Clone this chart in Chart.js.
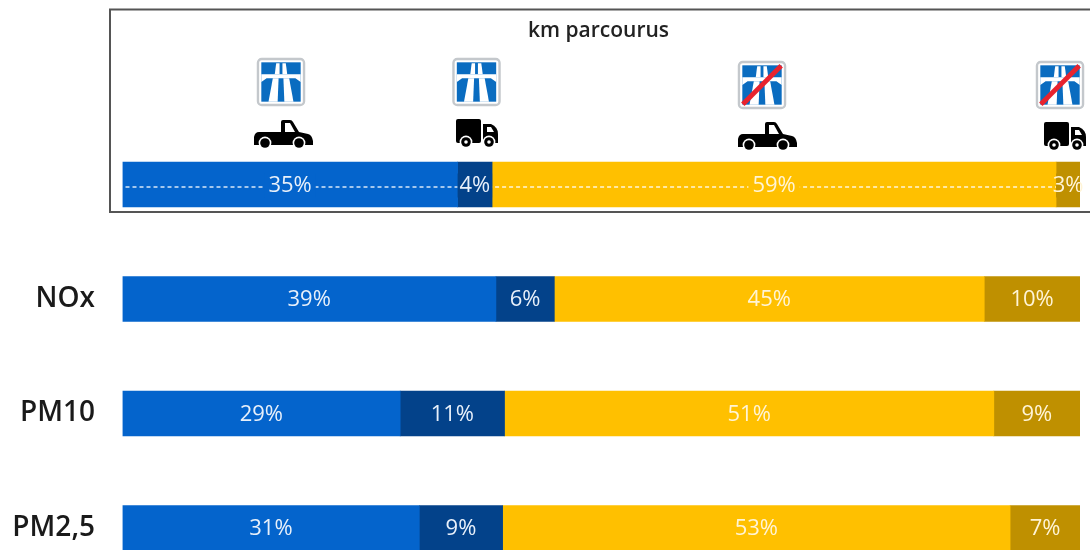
<!DOCTYPE html>
<html>
<head>
<meta charset="utf-8">
<title>km parcourus</title>
<script src="https://cdn.jsdelivr.net/npm/chart.js@4"></script>
<style>
	html, body { margin: 0; padding: 0; background: #fff; overflow: hidden; }
	#wrap { width: 1090px; height: 550px; overflow: hidden; }
	canvas { display: block; filter: blur(0.5px); }
</style>
</head>
<body>
<div id="wrap"><canvas id="myChart" width="1090" height="590"></canvas></div>
<script>
var categories = ["km parcourus", "NOx", "PM10", "PM2,5"];
var tickLabels = ["", "NOx", "PM10", "PM2,5"];
var titleText = "km parcourus";

// share per row, labels are rounded when drawn
var pickupMotorway = [35, 39, 29, 31];
var truckMotorway = [3.6, 6.1, 10.9, 8.7];
var pickupOther = [58.9, 44.9, 51.1, 53];
var truckOther = [2.5, 10, 9, 7.3];

var blue = "#0464cc",
	darkBlue = "#03428a",
	yellow = "#ffc000",
	darkYellow = "#bf9000";

var labelFont = "400 22px 'Open Sans'";

function drawSign(ctx, x, y, s, crossed) {
	ctx.save();
	ctx.translate(x, y);
	ctx.scale(s, s);
	ctx.fillStyle = "#fff";
	ctx.strokeStyle = "#c4c8cc";
	ctx.lineWidth = 0.05;
	ctx.beginPath();
	ctx.roundRect(0.02, 0.02, 0.96, 0.96, 0.08);
	ctx.fill();
	ctx.stroke();
	ctx.fillStyle = "#0a6cc0";
	ctx.fillRect(0.09, 0.09, 0.82, 0.82);
	ctx.fillStyle = "#fff";
	var polys = [
		// bridge, with its arched underside
		[[0.09, 0.34], [0.91, 0.34], [0.91, 0.5], [0.8, 0.42], [0.2, 0.42], [0.09, 0.5]],
		[[0.4, 0.11], [0.47, 0.11], [0.47, 0.34], [0.37, 0.34]],
		[[0.53, 0.11], [0.6, 0.11], [0.63, 0.34], [0.53, 0.34]],
		[[0.33, 0.42], [0.45, 0.42], [0.43, 0.91], [0.24, 0.91]],
		[[0.55, 0.42], [0.67, 0.42], [0.76, 0.91], [0.57, 0.91]]
	];
	polys.forEach(function(p) {
		ctx.beginPath();
		p.forEach(function(q, i) {
			if (i === 0) ctx.moveTo(q[0], q[1]); else ctx.lineTo(q[0], q[1]);
		});
		ctx.closePath();
		ctx.fill();
	});
	if (crossed) {
		ctx.strokeStyle = "#e8232e";
		ctx.lineWidth = 0.1;
		ctx.beginPath();
		ctx.moveTo(0.1, 0.9);
		ctx.lineTo(0.9, 0.1);
		ctx.stroke();
	}
	ctx.restore();
}

function wheel(ctx, x, y) {
	ctx.fillStyle = "#fff";
	ctx.beginPath();
	ctx.arc(x, y, 6.4, 0, Math.PI * 2);
	ctx.fill();
	ctx.fillStyle = "#000";
	ctx.beginPath();
	ctx.arc(x, y, 4.8, 0, Math.PI * 2);
	ctx.fill();
}

function drawPickup(ctx, x, y) {
	ctx.save();
	ctx.translate(x, y);
	ctx.fillStyle = "#000";
	ctx.beginPath();
	ctx.moveTo(0, 17);
	ctx.quadraticCurveTo(1, 12, 5, 12);
	ctx.lineTo(27, 12);
	ctx.lineTo(27, 2);
	ctx.quadraticCurveTo(27, 0, 29, 0);
	ctx.lineTo(36, 0);
	ctx.quadraticCurveTo(38, 0, 39, 2);
	ctx.lineTo(45, 12);
	ctx.lineTo(54, 14);
	ctx.quadraticCurveTo(58, 15, 59, 21);
	ctx.lineTo(59, 25);
	ctx.lineTo(0, 25);
	ctx.closePath();
	ctx.fill();
	ctx.fillStyle = "#fff";
	ctx.beginPath();
	ctx.moveTo(31, 3);
	ctx.lineTo(36, 3);
	ctx.lineTo(41, 12);
	ctx.lineTo(31, 12);
	ctx.closePath();
	ctx.fill();
	wheel(ctx, 11, 23);
	wheel(ctx, 45, 23);
	ctx.restore();
}

function drawTruck(ctx, x, y) {
	ctx.save();
	ctx.translate(x, y);
	ctx.fillStyle = "#000";
	ctx.beginPath();
	ctx.roundRect(0, 0, 25, 24, 2);
	ctx.fill();
	ctx.beginPath();
	ctx.moveTo(27, 5);
	ctx.lineTo(35, 5);
	ctx.quadraticCurveTo(42, 8, 42, 15);
	ctx.lineTo(42, 24);
	ctx.lineTo(27, 24);
	ctx.closePath();
	ctx.fill();
	ctx.fillStyle = "#fff";
	ctx.beginPath();
	ctx.moveTo(31, 8);
	ctx.lineTo(35, 8);
	ctx.lineTo(38, 13);
	ctx.lineTo(31, 13);
	ctx.closePath();
	ctx.fill();
	wheel(ctx, 10, 23);
	wheel(ctx, 33, 23);
	ctx.fillStyle = "#fff";
	ctx.beginPath();
	ctx.arc(10, 23, 1.8, 0, Math.PI * 2);
	ctx.arc(33, 23, 1.8, 0, Math.PI * 2);
	ctx.fill();
	ctx.restore();
}

var framePlugin = {
	id: "frame",
	beforeDraw: function(chart) {
		var ctx = chart.ctx;
		ctx.save();
		ctx.strokeStyle = "#555";
		ctx.lineWidth = 2;
		ctx.strokeRect(110, 9.5, 1000, 202.5);
		ctx.fillStyle = "#222";
		ctx.font = "600 21px 'Open Sans'";
		ctx.textAlign = "center";
		ctx.textBaseline = "middle";
		ctx.fillText(titleText, 598.5, 31);
		drawSign(ctx, 257, 58, 48, false);
		drawSign(ctx, 452.5, 58, 48, false);
		drawSign(ctx, 738, 61, 48, true);
		drawSign(ctx, 1036, 61, 48, true);
		drawPickup(ctx, 254, 120);
		drawTruck(ctx, 456, 119);
		drawPickup(ctx, 738, 122);
		drawTruck(ctx, 1044, 122);
		ctx.restore();
	}
};

var barLabelPlugin = {
	id: "barLabels",
	afterDatasetsDraw: function(chart) {
		var ctx = chart.ctx;
		ctx.save();
		ctx.font = labelFont;
		ctx.textAlign = "center";
		ctx.textBaseline = "middle";

		// dashed line through the first row only
		chart.data.datasets.forEach(function(ds, i) {
			var bar = chart.getDatasetMeta(i).data[0];
			ctx.save();
			ctx.strokeStyle = "rgba(255,255,255,0.85)";
			ctx.lineWidth = 1.5;
			ctx.setLineDash([4, 3]);
			ctx.beginPath();
			ctx.moveTo(bar.base + 3, bar.y + 2.5);
			ctx.lineTo(bar.x, bar.y + 2.5);
			ctx.stroke();
			ctx.restore();
		});

		chart.data.datasets.forEach(function(ds, i) {
			chart.getDatasetMeta(i).data.forEach(function(bar, j) {
				var txt = Math.round(ds.data[j]) + "%";
				var cx = (bar.base + bar.x) / 2;
				if (j === 0) {
					var w = ctx.measureText(txt).width + 8;
					ctx.fillStyle = ds.backgroundColor;
					ctx.fillRect(Math.max(cx - w / 2, bar.base), bar.y - 11, Math.min(w, bar.x - bar.base), 24);
				}
				ctx.fillStyle = i < 2 ? "#e8f0fa" : "#fff4d6";
				ctx.fillText(txt, cx, bar.y + 1);
			});
		});
		ctx.restore();
	}
};

var ctx = document.getElementById("myChart").getContext("2d");

var myChart = new Chart(ctx, {
	type: "bar",
	plugins: [framePlugin, barLabelPlugin],
	data: {
		labels: categories,
		datasets: [
			{ label: "pickup motorway", data: pickupMotorway, backgroundColor: blue },
			{ label: "truck motorway", data: truckMotorway, backgroundColor: darkBlue },
			{ label: "pickup other", data: pickupOther, backgroundColor: yellow },
			{ label: "truck other", data: truckOther, backgroundColor: darkYellow }
		]
	},
	options: {
		indexAxis: "y",
		responsive: false,
		animation: false,
		barThickness: 45,
		layout: {
			// canvas is taller than the page so the last row runs off the bottom
			padding: { left: 0, right: 10, top: 127.25, bottom: 4.75 }
		},
		plugins: {
			legend: { display: false },
			title: { display: false },
			tooltip: { enabled: false }
		},
		scales: {
			x: {
				stacked: true,
				display: false,
				min: 0,
				max: 100
			},
			y: {
				stacked: true,
				grid: { display: false, drawTicks: false },
				border: { display: false },
				afterFit: function(axis) {
					axis.width = 122.5;
					axis.paddingTop = 0;
					axis.paddingBottom = 0;
				},
				ticks: {
					padding: 27.5,
					color: "#1a1a1a",
					font: { family: "'Open Sans'", size: 28, weight: "600" },
					callback: function(value, index) { return tickLabels[index]; }
				}
			}
		}
	}
});
</script>
</body>
</html>
